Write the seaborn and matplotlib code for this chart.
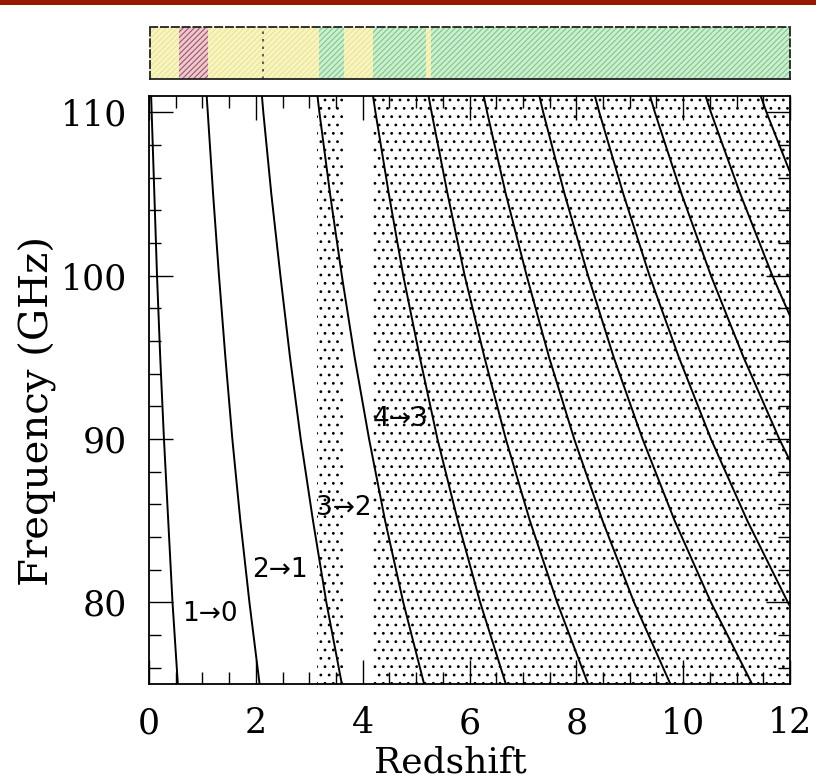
import matplotlib
matplotlib.use("Agg")
import matplotlib.pyplot as plt
import numpy as np
import pandas as pd
import seaborn as sns
from matplotlib.patches import Rectangle
from matplotlib.ticker import MultipleLocator

# ---- data ----
# Observed frequency grid (GHz) at which the redshift of each CO line was read
FREQ_GHZ = [75, 80, 85, 90, 95, 100, 105, 110, 115]

TRANSITIONS = ["1→0", "2→1", "3→2", "4→3", "5→4", "6→5",
               "7→6", "8→7", "9→8", "10→9", "11→10", "12→11"]

Z_1_0 = [0.54, 0.44, 0.36, 0.28, 0.21, 0.15, 0.10, 0.05, 0.00]
Z_2_1 = [2.07, 1.88, 1.71, 1.56, 1.43, 1.31, 1.20, 1.10, 1.00]
Z_3_2 = [3.61, 3.32, 3.07, 2.84, 2.64, 2.46, 2.29, 2.14, 2.01]
Z_4_3 = [5.15, 4.76, 4.42, 4.12, 3.85, 3.61, 3.39, 3.19, 3.01]
Z_5_4 = [6.68, 6.20, 5.78, 5.40, 5.07, 4.76, 4.49, 4.24, 4.01]
Z_6_5 = [8.22, 7.64, 7.13, 6.68, 6.28, 5.91, 5.59, 5.29, 5.01]
Z_7_6 = [9.76, 9.08, 8.49, 7.96, 7.49, 7.07, 6.68, 6.33, 6.01]
Z_8_7 = [11.29, 10.52, 9.84, 9.24, 8.70, 8.22, 7.78, 7.38, 7.02]
Z_9_8 = [12.83, 11.96, 11.20, 10.52, 9.92, 9.37, 8.88, 8.43, 8.02]
Z_10_9 = [14.36, 13.40, 12.55, 11.80, 11.13, 10.52, 9.97, 9.47, 9.02]
Z_11_10 = [15.89, 14.84, 13.91, 13.08, 12.34, 11.67, 11.07, 10.52, 10.02]
Z_12_11 = [17.43, 16.28, 15.26, 14.36, 13.55, 12.82, 12.16, 11.56, 11.02]

Z_LINES = [Z_1_0, Z_2_1, Z_3_2, Z_4_3, Z_5_4, Z_6_5,
           Z_7_6, Z_8_7, Z_9_8, Z_10_9, Z_11_10, Z_12_11]

# labelled transitions (text, left z, centre frequency)
LABEL_TEXT = ["1→0", "2→1", "3→2", "4→3"]
LABEL_Z = [0.62, 1.93, 3.13, 4.19]
LABEL_FREQ = [79.3, 82.0, 85.8, 91.2]

# stippled redshift ranges in the main panel
SHADE_START = [3.15, 4.19]
SHADE_END = [3.63, 12.0]

# coloured strip above the panel
BAR_START = [0.00, 0.54, 1.09, 3.16, 3.63, 4.19, 5.17, 5.26]
BAR_END = [0.54, 1.09, 3.16, 3.63, 4.19, 5.17, 5.26, 12.0]
BAR_KIND = ["yellow", "red", "yellow", "green", "yellow", "green", "yellow", "green"]
BAR_DIVIDER_Z = [2.12]

X_TICKS = [0, 2, 4, 6, 8, 10, 12]
Y_TICKS = [80, 90, 100, 110]

# ---- styling ----
sns.set_style("ticks")
plt.rcParams["font.family"] = ["DejaVu Serif"]
plt.rcParams["hatch.linewidth"] = 0.8
for k in ["text.color", "axes.labelcolor", "xtick.color", "ytick.color", "axes.edgecolor"]:
    plt.rcParams[k] = "black"

FACE = {"yellow": "#f8f5c4", "red": "#eacbd0", "green": "#cdeecf"}
HATCH = {"yellow": "#ece48c", "red": "#a8506a", "green": "#7cc98c"}

fig = plt.figure(figsize=(8.16, 7.81), dpi=100)
fig.patch.set_facecolor("white")
fig.add_artist(Rectangle((0, 1 - 5 / 781), 1, 5 / 781, transform=fig.transFigure,
                         facecolor="#981a00", edgecolor="none"))

ax = fig.add_axes([149 / 816, 1 - 684 / 781, 641 / 816, 588 / 781])
axb = fig.add_axes([150 / 816, 1 - 79 / 781, 640 / 816, 52 / 781])

# long-form table of the lines
rows = []
for name, zs in zip(TRANSITIONS, Z_LINES):
    for f, z in zip(FREQ_GHZ, zs):
        rows.append({"transition": name, "freq": f, "z": z})
df = pd.DataFrame(rows)

# stipple regions
for s, e in zip(SHADE_START, SHADE_END):
    ax.axvspan(s, e, facecolor="none", edgecolor="black", hatch="..", linewidth=0, zorder=1)

sns.lineplot(data=df, x="z", y="freq", units="transition", estimator=None,
             sort=False, color="black", linewidth=1.4, legend=False, ax=ax, zorder=3)

for t, z, f in zip(LABEL_TEXT, LABEL_Z, LABEL_FREQ):
    ax.text(z, f, t, ha="left", va="center", fontsize=19,
            family=["DejaVu Sans"], color="black", zorder=4)

ax.set_xlim(0, 12)
ax.set_ylim(75, 111)
ax.set_xticks(X_TICKS)
ax.set_yticks(Y_TICKS)
ax.xaxis.set_minor_locator(MultipleLocator(0.5))
ax.yaxis.set_minor_locator(MultipleLocator(2))
ax.tick_params(which="both", direction="in", top=True, right=True, width=1.0,
               labelsize=25, pad=16, color="black", labelcolor="black")
ax.tick_params(which="major", length=17)
ax.tick_params(which="minor", length=8.5)
for sp in ax.spines.values():
    sp.set_linewidth(1.3)
    sp.set_color("black")

ax.set_xlabel("Redshift", fontsize=26, color="black")
ax.xaxis.set_label_coords(0.47, -0.105)
ax.set_ylabel("")
fig.text(38 / 816, 1 - 411 / 781, "Frequency (GHz)", rotation=90, ha="center",
         va="center", fontsize=29, color="black")
ax.set_facecolor("white")

# top strip
for s, e, k in zip(BAR_START, BAR_END, BAR_KIND):
    axb.axvspan(s, e, facecolor=FACE[k], edgecolor=HATCH[k], hatch="//////", linewidth=0)
for zd in BAR_DIVIDER_Z:
    axb.axvline(zd, color="#444444", linestyle=(0, (1.5, 3)), linewidth=1.2)
axb.set_xlim(0, 12)
axb.set_ylim(0, 1)
axb.set_xticks([])
axb.set_yticks([])
for name, sp in axb.spines.items():
    sp.set_color("#222222")
    sp.set_linewidth(1.3)
    if name != "bottom":
        sp.set_linestyle((0, (4, 2)))

fig.savefig("out.png", dpi=100, facecolor="white")
